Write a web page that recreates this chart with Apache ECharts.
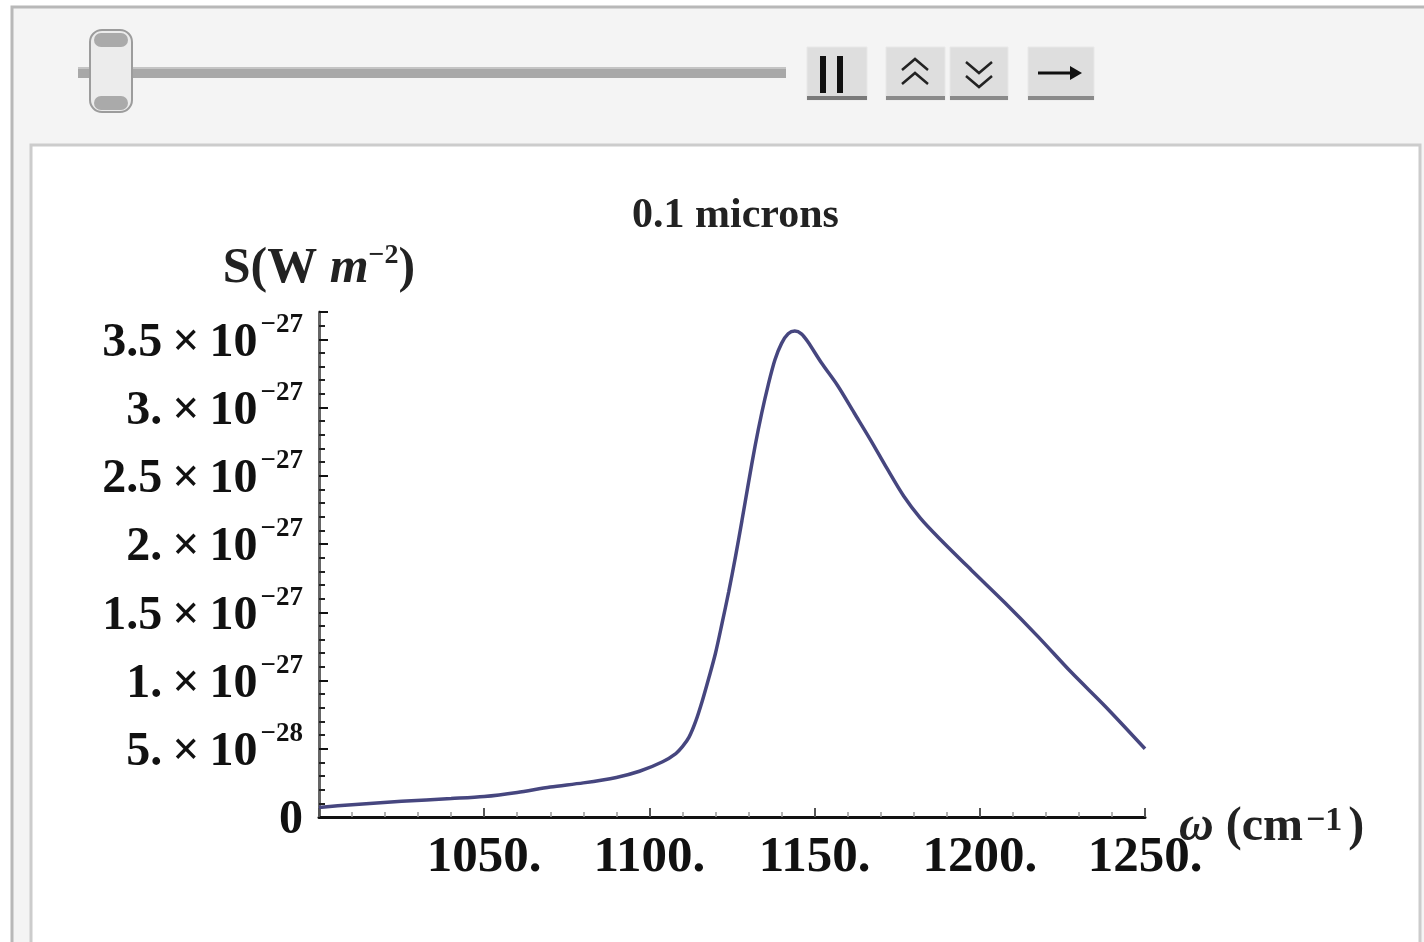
<!DOCTYPE html>
<html>
<head>
<meta charset="utf-8">
<script src="https://cdn.jsdelivr.net/npm/echarts@6/dist/echarts.min.js"></script>
<style>
html,body{margin:0;padding:0;background:#fff;}
#chart{width:1424px;height:942px;}
</style>
</head>
<body>
<div id="chart"></div>
<script>
// ---- data ----
const titleText = '0.1 microns';
// wavenumber omega (cm^-1)
const omega = [1000, 1010, 1025, 1040, 1050, 1060, 1070, 1080, 1090, 1097, 1104, 1108, 1110, 1112, 1114, 1116, 1118, 1120, 1122, 1124, 1126, 1128, 1130, 1132, 1134, 1136, 1138, 1140, 1142, 1144, 1146, 1148, 1152, 1157, 1162, 1167, 1172, 1177, 1182, 1187.4, 1197.4, 1207.6, 1217.7, 1227.7, 1238, 1250];
// S in units of 1e-27 W m^-2
const sValues_e27 = [0.07, 0.09, 0.115, 0.135, 0.15, 0.18, 0.22, 0.25, 0.29, 0.335, 0.405, 0.465, 0.515, 0.585, 0.70, 0.85, 1.02, 1.20, 1.42, 1.65, 1.90, 2.17, 2.45, 2.72, 2.96, 3.17, 3.35, 3.47, 3.54, 3.56, 3.54, 3.48, 3.33, 3.16, 2.96, 2.76, 2.55, 2.35, 2.19, 2.05, 1.81, 1.57, 1.32, 1.06, 0.81, 0.50];
// axis ticks
const xTicks = [1050, 1100, 1150, 1200, 1250];
const yTicks_e27 = [0, 0.5, 1, 1.5, 2, 2.5, 3, 3.5];

const SERIF = "'Liberation Serif','DejaVu Serif','Times New Roman',serif";
const chart = echarts.init(document.getElementById('chart'), null, {renderer: 'canvas'});

function yLabel(v) {
  v = Math.round(v * 10) / 10;
  if (yTicks_e27.indexOf(v) < 0) return '';
  if (v === 0) return '{m|0}';
  let mant, exp;
  if (v < 1) { mant = Math.round(v * 10) + '.'; exp = '\u221228'; }
  else { mant = (Number.isInteger(v) ? v + '.' : String(v)); exp = '\u221227'; }
  return '{m|' + mant + '}{x|\u00d7}{m|10}{s|' + exp + '}';
}

const data = omega.map((x, i) => [x, sValues_e27[i]]);

const option = {
  animation: false,
  backgroundColor: '#ffffff',
  graphic: [
    // outer manipulate panel
    {type: 'rect', z: -10, shape: {x: 12, y: 7, width: 1420, height: 940}, style: {fill: '#f4f4f4', stroke: '#b8b8b8', lineWidth: 3}},
    // inner content panel
    {type: 'rect', z: -9, shape: {x: 31, y: 145, width: 1389, height: 800}, style: {fill: '#ffffff', stroke: '#cccccc', lineWidth: 3}},
    // slider track
    {type: 'rect', z: -8, shape: {x: 78, y: 67, width: 708, height: 11}, style: {fill: '#a8a8a8'}},
    {type: 'rect', z: -8, shape: {x: 78, y: 67, width: 708, height: 2}, style: {fill: '#c4c4c4'}},
    // slider thumb
    {type: 'rect', z: -7, shape: {x: 90, y: 30, width: 42, height: 82, r: 12}, style: {fill: '#ececec', stroke: '#9c9c9c', lineWidth: 2}},
    {type: 'rect', z: -7, shape: {x: 94, y: 33, width: 34, height: 14, r: 8}, style: {fill: '#aaaaaa'}},
    {type: 'rect', z: -7, shape: {x: 94, y: 96, width: 34, height: 14, r: 8}, style: {fill: '#aaaaaa'}},
    // buttons
    {type: 'rect', z: -7, shape: {x: 807, y: 47, width: 60, height: 53}, style: {fill: '#dedede', stroke: '#e8e8e8', lineWidth: 1}},
    {type: 'rect', z: -7, shape: {x: 886, y: 47, width: 59, height: 53}, style: {fill: '#dedede', stroke: '#e8e8e8', lineWidth: 1}},
    {type: 'rect', z: -7, shape: {x: 950, y: 47, width: 58, height: 53}, style: {fill: '#dedede', stroke: '#e8e8e8', lineWidth: 1}},
    {type: 'rect', z: -7, shape: {x: 1028, y: 47, width: 66, height: 53}, style: {fill: '#dedede', stroke: '#e8e8e8', lineWidth: 1}},
    {type: 'rect', z: -6, shape: {x: 807, y: 96, width: 60, height: 4}, style: {fill: '#7a7a7a'}},
    {type: 'rect', z: -6, shape: {x: 886, y: 96, width: 59, height: 4}, style: {fill: '#8a8a8a'}},
    {type: 'rect', z: -6, shape: {x: 950, y: 96, width: 58, height: 4}, style: {fill: '#8a8a8a'}},
    {type: 'rect', z: -6, shape: {x: 1028, y: 96, width: 66, height: 4}, style: {fill: '#8a8a8a'}},
    // pause bars
    {type: 'rect', z: -5, shape: {x: 820, y: 56, width: 6, height: 37}, style: {fill: '#111'}},
    {type: 'rect', z: -5, shape: {x: 837, y: 56, width: 6, height: 37}, style: {fill: '#111'}},
    // double chevron up
    {type: 'polyline', z: -5, shape: {points: [[902, 70], [915, 59], [928, 70]]}, style: {stroke: '#222', lineWidth: 2.5, fill: null}},
    {type: 'polyline', z: -5, shape: {points: [[902, 84], [915, 73], [928, 84]]}, style: {stroke: '#222', lineWidth: 2.5, fill: null}},
    // double chevron down
    {type: 'polyline', z: -5, shape: {points: [[966, 62], [979, 73], [992, 62]]}, style: {stroke: '#222', lineWidth: 2.5, fill: null}},
    {type: 'polyline', z: -5, shape: {points: [[966, 76], [979, 87], [992, 76]]}, style: {stroke: '#222', lineWidth: 2.5, fill: null}},
    // arrow
    {type: 'line', z: -5, shape: {x1: 1038, y1: 73, x2: 1074, y2: 73}, style: {stroke: '#111', lineWidth: 3}},
    {type: 'polygon', z: -5, shape: {points: [[1070, 66], [1082, 73], [1070, 80]]}, style: {fill: '#111'}}
  ],
  title: {
    text: titleText,
    left: 627,
    top: 190,
    textStyle: {fontFamily: SERIF, fontWeight: 'bold', fontSize: 42, color: '#222'}
  },
  grid: {left: 319, top: 312, width: 826, height: 505, containLabel: false},
  xAxis: {
    type: 'value',
    min: 1000,
    max: 1250,
    interval: 50,
    splitLine: {show: false},
    axisLine: {show: true, onZero: false, lineStyle: {color: '#111', width: 3}},
    axisTick: {show: true, inside: true, length: 9, lineStyle: {color: '#555', width: 2}},
    minorTick: {show: true, splitNumber: 5, length: 5, lineStyle: {color: '#999', width: 1.5}},
    axisLabel: {
      margin: 15,
      fontFamily: SERIF, fontWeight: 'bold', fontSize: 51, color: '#111',
      formatter: v => (xTicks.indexOf(v) >= 0 ? v + '.' : '')
    },
    name: '{i|\u03c9} (cm{s|\u22121}{p|)}',
    nameLocation: 'end',
    nameGap: 34,
    nameMoveOverlap: false,
    nameTextStyle: {
      fontFamily: SERIF, fontWeight: 'bold', fontSize: 48, color: '#222',
      padding: [22, 0, 0, 0],
      rich: {
        i: {fontFamily: SERIF, fontStyle: 'italic', fontSize: 48, color: '#222'},
        s: {fontFamily: SERIF, fontWeight: 'bold', fontSize: 34, color: '#222', verticalAlign: 'top', lineHeight: 34, padding: [0, 2, 0, 3]},
        p: {fontFamily: SERIF, fontWeight: 'bold', fontSize: 48, color: '#222', padding: [0, 0, 0, 4]}
      }
    }
  },
  yAxis: {
    type: 'value',
    min: 0,
    max: 3.7,
    interval: 0.5,
    splitLine: {show: false},
    axisLine: {show: true, lineStyle: {color: '#666', width: 3}},
    axisTick: {show: true, inside: true, length: 9, lineStyle: {color: '#111', width: 2}},
    minorTick: {show: true, splitNumber: 5, length: 6, lineStyle: {color: '#222', width: 2}},
    axisLabel: {
      margin: 16,
      showMaxLabel: false,
      formatter: yLabel,
      rich: {
        m: {fontFamily: SERIF, fontWeight: 'bold', fontSize: 48, color: '#111', lineHeight: 56, verticalAlign: 'bottom'},
        x: {fontFamily: SERIF, fontWeight: 'bold', fontSize: 48, color: '#111', padding: [0, 10, 0, 10], lineHeight: 56, verticalAlign: 'bottom'},
        s: {fontFamily: SERIF, fontWeight: 'bold', fontSize: 27, color: '#111', verticalAlign: 'top', lineHeight: 28, padding: [0, 0, 0, 3]}
      }
    },
    name: '{r|S(W }{i|m}{s|\u22122}{r|)}',
    nameLocation: 'end',
    nameGap: 18,
    nameMoveOverlap: false,
    nameTextStyle: {
      align: 'center',
      rich: {
        r: {fontFamily: SERIF, fontWeight: 'bold', fontSize: 50, color: '#222', lineHeight: 52, verticalAlign: 'bottom'},
        i: {fontFamily: SERIF, fontWeight: 'bold', fontStyle: 'italic', fontSize: 50, color: '#222', lineHeight: 52, verticalAlign: 'bottom'},
        s: {fontFamily: SERIF, fontWeight: 'bold', fontSize: 28, color: '#222', verticalAlign: 'top', lineHeight: 28}
      }
    }
  },
  series: [{
    type: 'line',
    data: data,
    smooth: 0.3,
    showSymbol: false,
    lineStyle: {color: '#46467f', width: 3.5},
    clip: false
  }]
};
chart.setOption(option);
</script>
</body>
</html>
